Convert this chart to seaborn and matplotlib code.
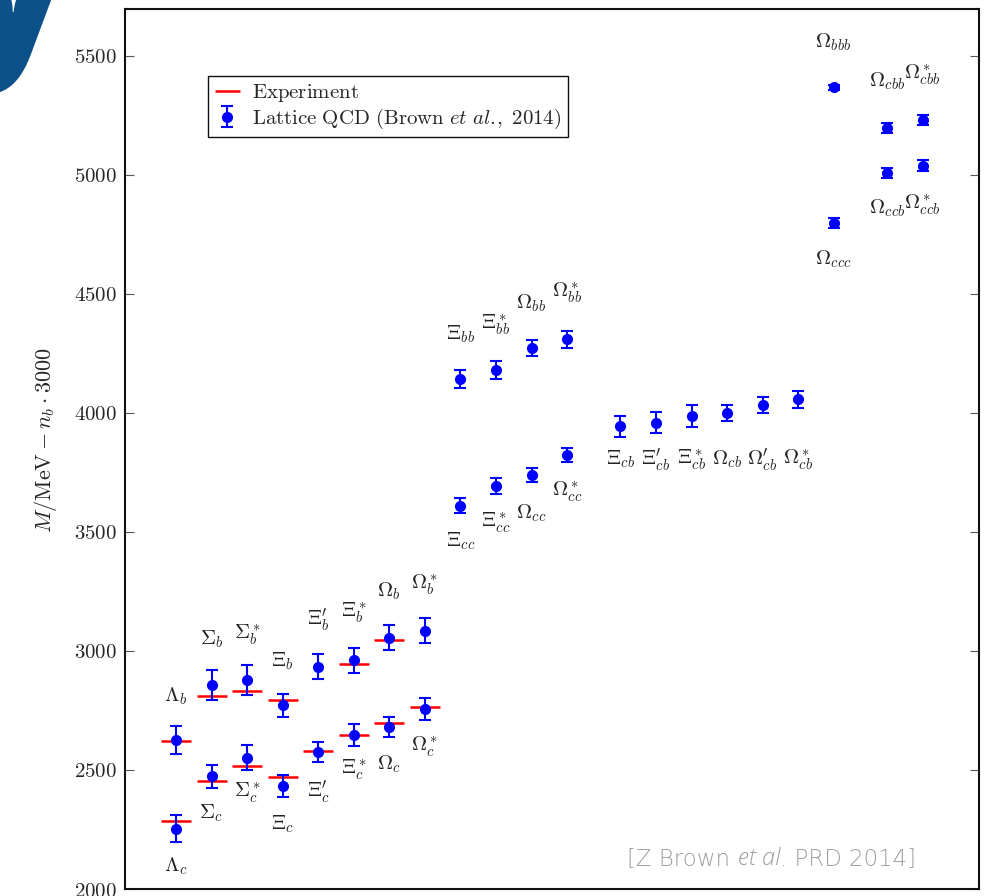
import numpy as np
import matplotlib
matplotlib.use("Agg")
import matplotlib.pyplot as plt
import seaborn as sns
from matplotlib.ticker import FixedLocator, FuncFormatter
from matplotlib.offsetbox import TextArea, HPacker, AnchoredOffsetbox

# ---- data (MeV, shifted by n_b * 3000) ----
x_pos = [0, 1, 2, 3, 4, 5, 6, 7,
         0, 1, 2, 3, 4, 5, 6, 7,
         8, 9, 10, 11,
         8, 9, 10, 11,
         12.5, 13.5, 14.5, 15.5, 16.5, 17.5,
         18.5, 18.5, 20, 20, 21, 21]

names = [r"$\Lambda_c$", r"$\Sigma_c$", r"$\Sigma_c^*$", r"$\Xi_c$",
         r"$\Xi_c^{\prime}$", r"$\Xi_c^*$", r"$\Omega_c$", r"$\Omega_c^*$",
         r"$\Lambda_b$", r"$\Sigma_b$", r"$\Sigma_b^*$", r"$\Xi_b$",
         r"$\Xi_b^{\prime}$", r"$\Xi_b^*$", r"$\Omega_b$", r"$\Omega_b^*$",
         r"$\Xi_{cc}$", r"$\Xi_{cc}^*$", r"$\Omega_{cc}$", r"$\Omega_{cc}^*$",
         r"$\Xi_{bb}$", r"$\Xi_{bb}^*$", r"$\Omega_{bb}$", r"$\Omega_{bb}^*$",
         r"$\Xi_{cb}$", r"$\Xi_{cb}^{\prime}$", r"$\Xi_{cb}^*$", r"$\Omega_{cb}$",
         r"$\Omega_{cb}^{\prime}$", r"$\Omega_{cb}^*$",
         r"$\Omega_{ccc}$", r"$\Omega_{bbb}$", r"$\Omega_{ccb}$",
         r"$\Omega_{cbb}$", r"$\Omega_{ccb}^*$", r"$\Omega_{cbb}^*$"]

lattice = [2254, 2474, 2551, 2433, 2575, 2648, 2681, 2756,
           2626, 2856, 2877, 2771, 2934, 2960, 3056, 3085,
           3610, 3692, 3738, 3822,
           4143, 4178, 4273, 4308,
           3943, 3959, 3986, 3998, 4032, 4056,
           4797, 5366, 5007, 5196, 5038, 5230]

lattice_err = [57, 48, 52, 46, 43, 46, 43, 45,
               59, 62, 62, 47, 53, 53, 51, 52,
               32, 35, 28, 30,
               38, 38, 34, 34,
               43, 46, 46, 34, 34, 35,
               20, 11, 22, 22, 22, 22]

experiment = [2286.5, 2453.5, 2518.1, 2469.4, 2578.4, 2645.9, 2695.2, 2765.9,
              2619.5, 2811.3, 2832.1, 2794.5, np.nan, 2945.5, 3046.1, np.nan,
              np.nan, np.nan, np.nan, np.nan,
              np.nan, np.nan, np.nan, np.nan,
              np.nan, np.nan, np.nan, np.nan, np.nan, np.nan,
              np.nan, np.nan, np.nan, np.nan, np.nan, np.nan]

# vertical placement of each name label
label_y = [2094, 2319, 2403, 2270, 2410, 2501, 2522, 2598,
           2809, 3047, 3068, 2956, 3131, 3159, 3250, 3278,
           3460, 3537, 3579, 3666,
           4328, 4370, 4462, 4504,
           3803, 3803, 3803, 3803, 3803, 3803,
           4644, 5554, 4861, 5393, 4875, 5421]

y_ticks = [2000, 2500, 3000, 3500, 4000, 4500, 5000, 5500]

df = {"x": np.array(x_pos, dtype=float), "m": np.array(lattice, dtype=float)}

# ---- style ----
sns.set_style("white")
plt.rcParams["mathtext.fontset"] = "cm"
plt.rcParams["font.family"] = ["DejaVu Serif"]

fig = plt.figure(figsize=(9.85, 8.96), dpi=100)
ax = fig.add_axes([0.1264, 0.0078, 0.868, 0.982])

# experimental masses as short red bars
x_arr = np.array(x_pos, dtype=float)
exp_arr = np.array(experiment, dtype=float)
has_exp = ~np.isnan(exp_arr)
ax.hlines(exp_arr[has_exp], x_arr[has_exp] - 0.42, x_arr[has_exp] + 0.42,
          colors="#ff0000", linewidth=1.8, zorder=2, label="Experiment")

# lattice results with error bars
lat_label = r"$\mathrm{Lattice\ QCD\ (Brown\ }\mathit{et\ al.}\!\mathrm{,\ 2014)}$"
eb = ax.errorbar(x_arr, lattice, yerr=lattice_err, fmt="o", color="#0000ff",
                 ecolor="#0000ff", elinewidth=1.5, capsize=4, capthick=1.5,
                 markersize=7, zorder=3, label=lat_label)
sns.scatterplot(data=df, x="x", y="m", color="#0000ff", s=50, edgecolor="#0000ff",
                linewidth=0, zorder=4, legend=False, ax=ax)

# name labels
for xi, yi, nm in zip(x_pos, label_y, names):
    ax.text(xi, yi, nm, ha="center", va="center", fontsize=15, color="#222222")

ax.set_xlim(-1.45, 22.6)
ax.set_ylim(2000, 5695)
ax.set_xticks([])
ax.yaxis.set_major_locator(FixedLocator(y_ticks))
ax.yaxis.set_major_formatter(FuncFormatter(lambda v, p: f"${v:.0f}$"))
ax.tick_params(axis="y", which="both", direction="in", left=True, right=True,
               length=6.5, width=0.8, color="#555555", labelsize=15, pad=5.5)
ax.set_xlabel("")
ax.set_ylabel(r"$M/\mathrm{MeV} - n_b \cdot 3000$", fontsize=16)
ax.yaxis.set_label_coords(-0.077, 0.51)
for sp in ax.spines.values():
    sp.set_visible(True)
    sp.set_linewidth(1.5)
    sp.set_color("#111111")

# legend
handles, labels = ax.get_legend_handles_labels()
i_exp = labels.index("Experiment")
i_lat = labels.index(lat_label)
leg = ax.legend([handles[i_exp], handles[i_lat]],
                [r"$\mathrm{Experiment}$", lat_label],
                loc="upper left", bbox_to_anchor=(0.098, 0.924),
                borderaxespad=0, fontsize=15, frameon=True, fancybox=False,
                framealpha=1, edgecolor="#111111", handlelength=1.2,
                handletextpad=0.6, borderpad=0.3, labelspacing=0.12, numpoints=1)
leg.get_frame().set_linewidth(1.0)

# citation in the lower right corner
cite_kw = dict(color="#9e9e9e", fontsize=16.5, family="DejaVu Sans", weight=200)
ital_kw = dict(color="#9e9e9e", fontsize=17, family="Open Sans",
               weight="light", style="italic")
parts = [TextArea("[Z Brown ", textprops=cite_kw),
         TextArea("et al", textprops=ital_kw),
         TextArea(". PRD 2014]", textprops=cite_kw)]
box = HPacker(children=parts, align="baseline", pad=0, sep=0)
anch = AnchoredOffsetbox(loc="lower right", child=box, frameon=False,
                         bbox_to_anchor=(0.926, 0.02), bbox_transform=ax.transAxes,
                         borderpad=0, pad=0)
ax.add_artist(anch)

# fragment of the slide title bleeding into the corner
fig.text(-0.05, 0.946, "y", fontsize=145, fontweight="heavy", family="Open Sans",
         color="#0b5088", ha="left", va="baseline")

fig.savefig("out.png", dpi=100)
